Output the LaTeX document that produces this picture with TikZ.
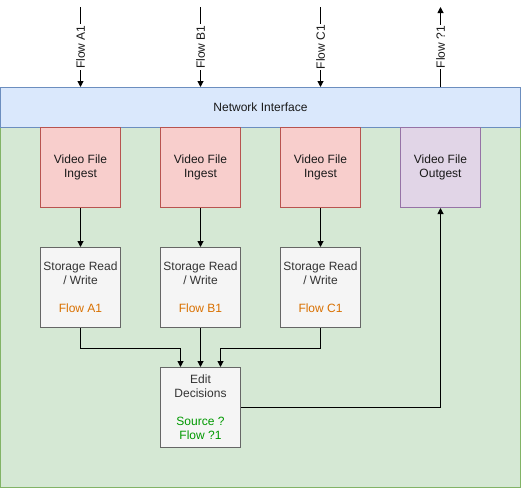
\documentclass[tikz,border=0pt]{standalone}
\usepackage{fontspec}
\setmainfont{Liberation Sans}
\usetikzlibrary{arrows.meta}
\definecolor{grnF}{HTML}{D5E8D4}\definecolor{grnS}{HTML}{82B366}
\definecolor{bluF}{HTML}{DAE8FC}\definecolor{bluS}{HTML}{6C8EBF}
\definecolor{redF}{HTML}{F8CECC}\definecolor{redS}{HTML}{B85450}
\definecolor{purF}{HTML}{E1D5E7}\definecolor{purS}{HTML}{9673A6}
\definecolor{gryF}{HTML}{F5F5F5}\definecolor{gryS}{HTML}{666666}
\definecolor{gryT}{HTML}{333333}
\definecolor{orgT}{HTML}{D97000}
\definecolor{grnT}{HTML}{009900}
\begin{document}
\begin{tikzpicture}[x=1pt,y=-1pt,
  every node/.style={font=\fontsize{12pt}{14pt}\selectfont, inner sep=0pt, align=center},
  box/.style={draw, line width=1pt, minimum width=80pt, minimum height=80pt},
  ingest/.style={box, fill=redF, draw=redS, text=black!90},
  outgest/.style={box, fill=purF, draw=purS, text=black!90},
  store/.style={box, fill=gryF, draw=gryS, text=gryT},
  conn/.style={line width=1pt, -{Triangle[length=6pt,width=6pt]}},
  flowlbl/.style={rotate=90, fill=white, inner sep=1pt, text=black!90}
]
\useasboundingbox (0,0) rectangle (521,488);
\fill[white] (0,0) rectangle (521,488);
\node[draw=grnS, fill=grnF, line width=1pt, minimum width=520pt, minimum height=360pt] (env) at (260.5,307.5) {};
\node[draw=bluS, fill=bluF, line width=1pt, minimum width=520pt, minimum height=40pt, text=black!90] (ni) at (260.5,107.5) {Network Interface};

\node[ingest] (ia) at (80.5,167.5) {Video File\\Ingest};
\node[ingest] (ib) at (200.5,167.5) {Video File\\Ingest};
\node[ingest] (ic) at (320.5,167.5) {Video File\\Ingest};
\node[outgest] (og) at (440.5,167.5) {Video File\\Outgest};

\node[store] (sa) at (80.5,287.5) {Storage Read\\/ Write\\[14pt]\textcolor{orgT}{Flow A1}};
\node[store] (sb) at (200.5,287.5) {Storage Read\\/ Write\\[14pt]\textcolor{orgT}{Flow B1}};
\node[store] (sc) at (320.5,287.5) {Storage Read\\/ Write\\[14pt]\textcolor{orgT}{Flow C1}};

\node[store] (ed) at (200.5,407.5) {Edit\\Decisions\\[14pt]\textcolor{grnT}{Source ?}\\\textcolor{grnT}{Flow ?1}};

\coordinate (ta) at (80.5,7);
\coordinate (tb) at (200.5,7);
\coordinate (tc) at (320.5,7);
\coordinate (td) at (440.5,7);

\draw[conn] (ta) -- node[flowlbl]{Flow A1} (ta |- ni.north);
\draw[conn] (tb) -- node[flowlbl]{Flow B1} (tb |- ni.north);
\draw[conn] (tc) -- node[flowlbl]{Flow C1} (tc |- ni.north);
\draw[conn] (td |- ni.north) -- node[flowlbl]{Flow ?1} (td);

\draw[conn] (ia) -- (sa);
\draw[conn] (ib) -- (sb);
\draw[conn] (ic) -- (sc);

\draw[conn] (sa.south) -- ++(0,20) -| ([xshift=-20pt]ed.north);
\draw[conn] (sb.south) -- (ed.north);
\draw[conn] (sc.south) -- ++(0,20) -| ([xshift=20pt]ed.north);
\draw[conn] (ed.east) -| (og.south);
\end{tikzpicture}
\end{document}
